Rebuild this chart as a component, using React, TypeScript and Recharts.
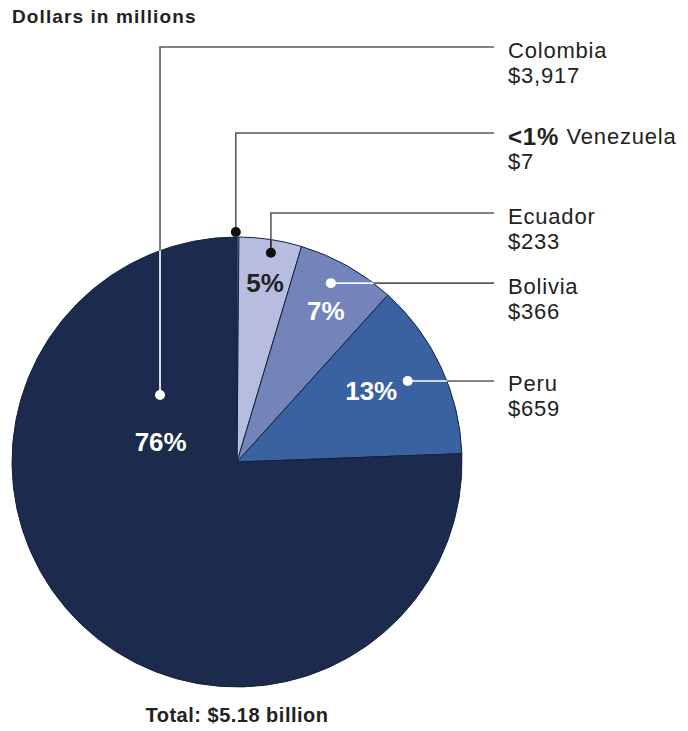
import { PieChart, Pie, Cell } from 'recharts';

const countries = ['Venezuela', 'Ecuador', 'Bolivia', 'Peru', 'Colombia'];
const amounts = [7, 233, 366, 659, 3917];
const amountLabels = ['$7', '$233', '$366', '$659', '$3,917'];
const pctLabels = ['<1%', '5%', '7%', '13%', '76%'];
const sliceColors = ['#d3d6ec', '#b8bddf', '#7384bb', '#3a62a0', '#1b2a4d'];

const data = countries.map((name, i) => ({ name, value: amounts[i] }));

const FONT = '"Liberation Sans", Arial, Helvetica, sans-serif';
const LINE = '#5a5a5a';
const TEXT = '#222';
const LABEL_X = 508;
const LINE_END = 494;

// callout layout: dot in polar coords (deg clockwise from 12 o'clock, px from center),
// elbowY = height of the horizontal run (null -> straight across from the dot)
const callouts = [
  { dotA: -0.3, dotR: 230, dotFill: '#111', inner: LINE, elbowY: 133, pctA: 0, pctR: 0, pctFill: '' },
  { dotA: 9.2, dotR: 212, dotFill: '#111', inner: '#333', elbowY: 213, pctA: 8.9, pctR: 181, pctFill: '#222' },
  { dotA: 27.7, dotR: 202, dotFill: '#fff', inner: '#fff', elbowY: null, pctA: 30.5, pctR: 175, pctFill: '#fff' },
  { dotA: 64.6, dotR: 189, dotFill: '#fff', inner: '#fff', elbowY: null, pctA: 62, pctR: 152, pctFill: '#fff' },
  { dotA: -49, dotR: 102, dotFill: '#fff', inner: '#fff', elbowY: 47, pctA: -75, pctR: 79, pctFill: '#fff' },
];

const polar = (cx: number, cy: number, deg: number, r: number) => {
  const rad = (deg * Math.PI) / 180;
  return [cx + r * Math.sin(rad), cy - r * Math.cos(rad)];
};

const renderCallout = (props: any) => {
  const { cx, cy, outerRadius, index } = props;
  const c = callouts[index];
  const [dx, dy] = polar(cx, cy, c.dotA, c.dotR);
  const ly = c.elbowY ?? dy;
  const d = `M${dx},${dy} L${dx},${ly} L${LINE_END},${ly}`;
  const clipId = `pie-clip-${index}`;
  const [px, py] = polar(cx, cy, c.pctA, c.pctR);
  const isVen = index === 0;
  return (
    <g key={`callout-${index}`}>
      <defs>
        <clipPath id={clipId}>
          <circle cx={cx} cy={cy} r={outerRadius} />
        </clipPath>
      </defs>
      <path d={d} fill="none" stroke={LINE} strokeWidth={1.6} />
      <path d={d} fill="none" stroke={c.inner} strokeWidth={1.6} clipPath={`url(#${clipId})`} />
      <circle cx={dx} cy={dy} r={5} fill={c.dotFill} />
      {!isVen && (
        <text x={px} y={py} textAnchor="middle" dominantBaseline="central" fill={c.pctFill}
          fontFamily={FONT} fontWeight="bold" fontSize={26}>
          {pctLabels[index]}
        </text>
      )}
      <text x={LABEL_X} y={ly + 3} dominantBaseline="central" fill={TEXT} fontFamily={FONT}
        fontSize={22} letterSpacing={0.8}>
        {isVen && <tspan fontWeight="bold" fontSize={24}>{pctLabels[index]} </tspan>}
        {countries[index]}
      </text>
      <text x={LABEL_X} y={ly + 28} dominantBaseline="central" fill={TEXT} fontFamily={FONT}
        fontSize={22} letterSpacing={0.8}>
        {amountLabels[index]}
      </text>
    </g>
  );
};

export default function App() {
  return (
    <div style={{ position: 'absolute', left: 0, top: 0, width: 688, height: 731, background: '#fff' }}>
      <PieChart width={688} height={731} margin={{ top: 0, right: 0, bottom: 0, left: 0 }}>
        <Pie
          data={data}
          dataKey="value"
          nameKey="name"
          cx={237}
          cy={462}
          outerRadius={225}
          startAngle={90}
          endAngle={-270}
          stroke="#16213d"
          strokeWidth={1}
          label={renderCallout}
          labelLine={false}
          isAnimationActive={false}
        >
          {data.map((d, i) => (
            <Cell key={d.name} fill={sliceColors[i]} />
          ))}
        </Pie>
      </PieChart>
      <div style={{ position: 'absolute', left: 12, top: 6, fontFamily: FONT, fontWeight: 'bold',
        fontSize: 19, letterSpacing: 1.1, color: TEXT }}>
        Dollars in millions
      </div>
      <div style={{ position: 'absolute', left: 0, width: 474, top: 704, textAlign: 'center',
        fontFamily: FONT, fontWeight: 'bold', fontSize: 20, letterSpacing: 0.5, color: TEXT }}>
        Total: $5.18 billion
      </div>
    </div>
  );
}
